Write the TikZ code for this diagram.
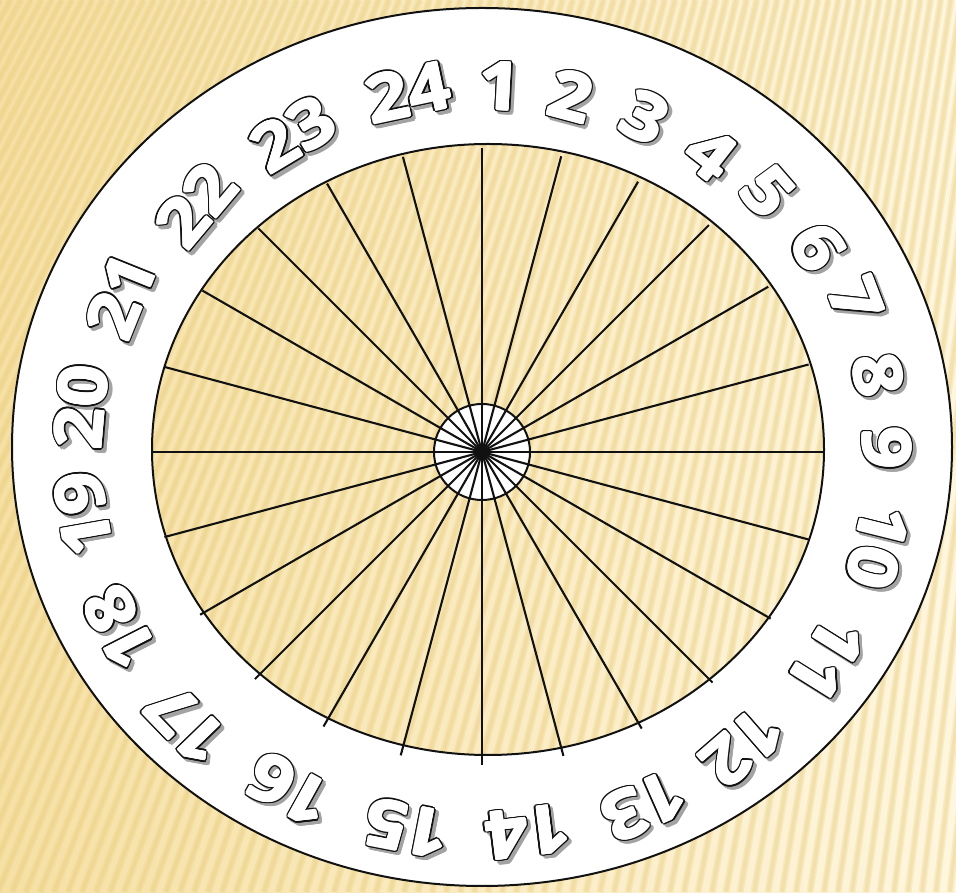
\documentclass[tikz,border=0pt]{standalone}
\usepackage{fontspec}
\usetikzlibrary{calc}
\newfontfamily\dialfont{Open Sans}[FakeStretch=1.12]
\definecolor{paper}{HTML}{FBEBC1}
\definecolor{paperlight}{HTML}{FEF6DE}
\definecolor{paperdeep}{HTML}{F6E0A4}
\definecolor{streak}{HTML}{E8CC7C}
\definecolor{ink}{HTML}{111111}
\definecolor{shadowgrey}{HTML}{A3A3A3}
\tikzset{
  ring/.style={draw=ink, line width=2pt},
  spoke/.style={draw=ink, line width=2.1pt},
  streakline/.style={draw=streak, line width=7pt, opacity=0.26},
  streakcore/.style={draw=streak, line width=3.5pt, opacity=0.28},
  %
  numface/.style={font=\dialfont\bfseries\fontsize{66}{66}\selectfont,
                  text=white, inner sep=0pt},
  numedge/.style={numface, text=ink},
  numshade/.style={numface, text=shadowgrey},
}
% one outlined number with its drop shadow: x, y, rotation, label
\newcommand{\dialnum}[4]{%
  \foreach \ang in {0,30,...,330}
    \node[numshade, rotate=#3] at ({#1+3.2+2.3*cos(\ang)},{#2-3.2+2.3*sin(\ang)}) {#4};
  \foreach \ang in {0,22.5,...,337.5}
    \node[numedge, rotate=#3] at ({#1+2.3*cos(\ang)},{#2+2.3*sin(\ang)}) {#4};
  \foreach \ang in {0,45,...,315}
    \node[numface, rotate=#3] at ({#1+0.9*cos(\ang)},{#2+0.9*sin(\ang)}) {#4};
  \node[numface, rotate=#3] (num#4) at (#1,#2) {#4};
}

\begin{document}
\begin{tikzpicture}[x=1pt, y=1pt]
  \useasboundingbox (0,0) rectangle (956,892);

  % striped paper
  \shade[left color=paperdeep, middle color=paper, right color=paperlight]
    (0,0) rectangle (956,892);
  \begin{scope}
    \clip (0,0) rectangle (956,892);
    \foreach \i in {0,...,110}{
      \pgfmathsetmacro\xb{-520+14*\i}
      \pgfmathsetmacro\xt{\xb+500-0.27*(\xb+520)}
      \draw[streakline] (\xb,0) -- (\xt,892);
      \draw[streakcore] (\xb,0) -- (\xt,892);
    }
  \end{scope}

  % white ring
  \fill[white, even odd rule]
    (482,445) ellipse [x radius=470, y radius=439]
    (488,442.5) ellipse [x radius=336, y radius=305.5];

  % hub and spokes
  \coordinate (hub) at (482,440);
  \fill[white] (hub) circle [radius=48];
  \foreach \a in {0,15,...,345}{
    \pgfmathsetmacro\sa{cos(\a)>=0 ? 3.41 : 3.30}
    \pgfmathsetmacro\sb{sin(\a)>=0 ? 3.04 : 3.13}
    \pgfmathsetmacro\sr{100*\sa*\sb/sqrt((\sb*cos(\a))^2+(\sa*sin(\a))^2)}
    \draw[spoke] (hub) -- ++(\a:\sr);
  }
  \draw[ring] (hub) circle [radius=48];

  \draw[ring] (482,445) ellipse [x radius=470, y radius=439];
  \draw[ring] (488,442.5) ellipse [x radius=336, y radius=305.5];

  % hour numbers round the ring
  \foreach \n/\x/\y/\r in {
      1/500/806/-3,    2/571/796/-15,   3/645/775/-27,   4/711/738/-38,
      5/768/700/-49,   6/818/645/-60,   7/856/592/-69,   8/878/517/-80,
      9/887/444/-90,  10/878/345/-104, 11/827/233/-122, 12/743/145/-139,
     13/644/86/-156,  14/528/60/-173,  15/407/64/169,   16/290/102/151,
     17/187/167/134,  18/120/264/117,  19/83/378/100,   20/81/485/85,
     21/121/596/68,   22/196/687/50,   23/293/758/31,   24/408/800/12}
    \dialnum{\x}{\y}{\r}{\n};

\end{tikzpicture}
\end{document}
